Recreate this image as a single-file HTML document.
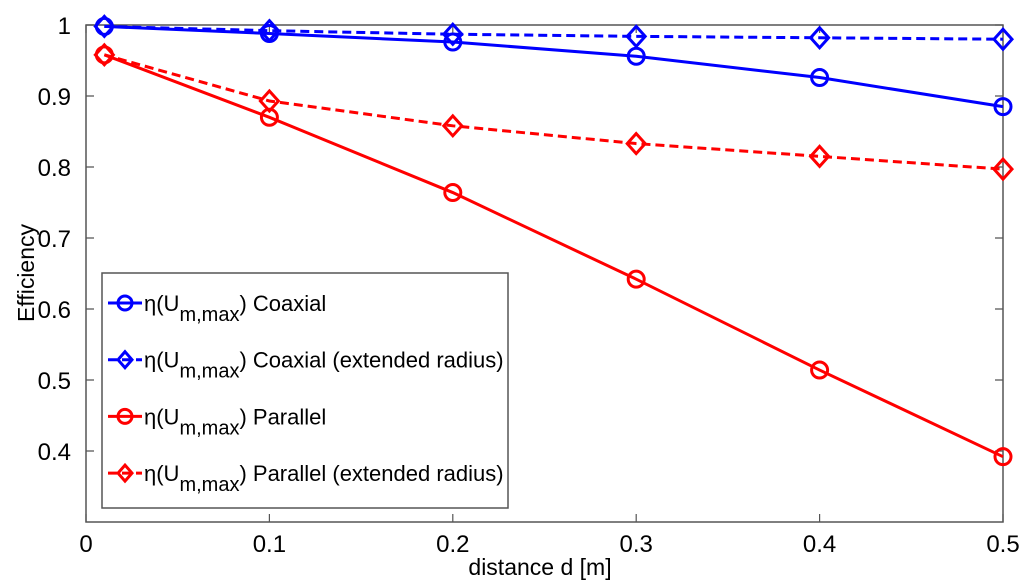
<!DOCTYPE html>
<html><head><meta charset="utf-8"><style>
body{margin:0;background:#fff;}
svg{display:block;font-family:"Liberation Sans",Arial,sans-serif;}
</style></head><body>
<svg id="chart" width="1024" height="587" viewBox="0 0 1024 587">
<rect x="86" y="25" width="917" height="497" fill="#fff" stroke="#555" stroke-width="1.5"/>
<g id="ticks"></g>
<g id="series"></g>
<text x="540" y="575" font-size="23" text-anchor="middle">distance d [m]</text>
<text x="34" y="273" font-size="23" text-anchor="middle" transform="rotate(-90 34 273)">Efficiency</text>
<g id="legend">
<rect x="102" y="273" width="406" height="235" fill="#fff" stroke="#555" stroke-width="1.5"/>
</g>
</svg>
<script>
const xValues=[0.01,0.1,0.2,0.3,0.4,0.5];
const coaxial=[0.998,0.988,0.976,0.956,0.926,0.885];
const coaxialExt=[0.998,0.992,0.987,0.984,0.982,0.980];
const parallel=[0.958,0.870,0.764,0.642,0.514,0.392];
const parallelExt=[0.958,0.893,0.858,0.833,0.815,0.797];
const xTicks=[0,0.1,0.2,0.3,0.4,0.5];
const xTickLabels=["0","0.1","0.2","0.3","0.4","0.5"];
const yTicks=[0.4,0.5,0.6,0.7,0.8,0.9,1];
const yTickLabels=["0.4","0.5","0.6","0.7","0.8","0.9","1"];
const legendLabels=["Coaxial","Coaxial (extended radius)","Parallel","Parallel (extended radius)"];

const NS="http://www.w3.org/2000/svg";
const L=86,R=1003,T=25,B=522,X0=0,X1=0.5,Y0=0.3,Y1=1;
const sx=v=>L+(v-X0)/(X1-X0)*(R-L);
const sy=v=>B-(v-Y0)/(Y1-Y0)*(B-T);
function mk(tag,attrs,parent){const e=document.createElementNS(NS,tag);for(const k in attrs)e.setAttribute(k,attrs[k]);parent.appendChild(e);return e;}
const ticks=document.getElementById('ticks');
xTicks.forEach((v,i)=>{
  const l=mk('path',{d:`M${sx(v)},${B}v-8M${sx(v)},${T}v8`,stroke:'#555','stroke-width':1.2},ticks);
  
  
  const t=mk('text',{x:sx(v),y:B+30,'font-size':24,'text-anchor':'middle'},ticks);
  t.textContent=xTickLabels[i];
  
  
});
yTicks.forEach((v,i)=>{
  const l=mk('path',{d:`M${L},${sy(v)}h8M${R},${sy(v)}h-8`,stroke:'#555','stroke-width':1.2},ticks);
  
  
  const t=mk('text',{x:L-15,y:sy(v)+9,'font-size':24,'text-anchor':'end'},ticks);
  t.textContent=yTickLabels[i];
  
  
});
function marker(g,x,y,type,color){
  let m;
  if(type==='o') m=mk('circle',{cx:x,cy:y,r:8,fill:'none',stroke:color,'stroke-width':3},g);
  else m=mk('path',{d:`M${x},${y-10}L${x+9},${y}L${x},${y+10}L${x-9},${y}Z`,fill:'none',stroke:color,'stroke-width':3},g);
  
  
}
const seriesDefs=[[coaxial,'#0000ff','o',''],[coaxialExt,'#0000ff','d','9,5'],[parallel,'#ff0000','o',''],[parallelExt,'#ff0000','d','9,5']];
const sg=document.getElementById('series');
const names=['series-coaxial','series-coaxial-extended','series-parallel','series-parallel-extended'];
seriesDefs.forEach((s,k)=>{
  const g=mk('g',{},sg);
  
  
  const p=mk('polyline',{points:s[0].map((v,i)=>sx(xValues[i])+','+sy(v)).join(' '),fill:'none',stroke:s[1],'stroke-width':3,'stroke-dasharray':s[3]||'none'},g);
  
  
  s[0].forEach((v,i)=>marker(g,sx(xValues[i]),sy(v),s[2],s[1]));
});
const lg=document.getElementById('legend');
seriesDefs.forEach((s,k)=>{
  const y=303+k*56.7;
  const g=mk('g',{},lg);
  
  
  mk('line',{x1:108,x2:142,y1:y,y2:y,stroke:s[1],'stroke-width':3,'stroke-dasharray':s[3]||'none'},g);
  if(s[2]==='o') mk('circle',{cx:125,cy:y,r:7,fill:'none',stroke:s[1],'stroke-width':3},g);
  else mk('path',{d:`M125,${y-8}L132,${y}L125,${y+8}L118,${y}Z`,fill:'none',stroke:s[1],'stroke-width':3},g);
  const t=mk('text',{x:144,y:y+8,'font-size':22},g);
  t.innerHTML='η(U<tspan font-size="20" dy="10">m,max</tspan><tspan dy="-10">) '+legendLabels[k]+'</tspan>';
});
</script>
</body></html>
